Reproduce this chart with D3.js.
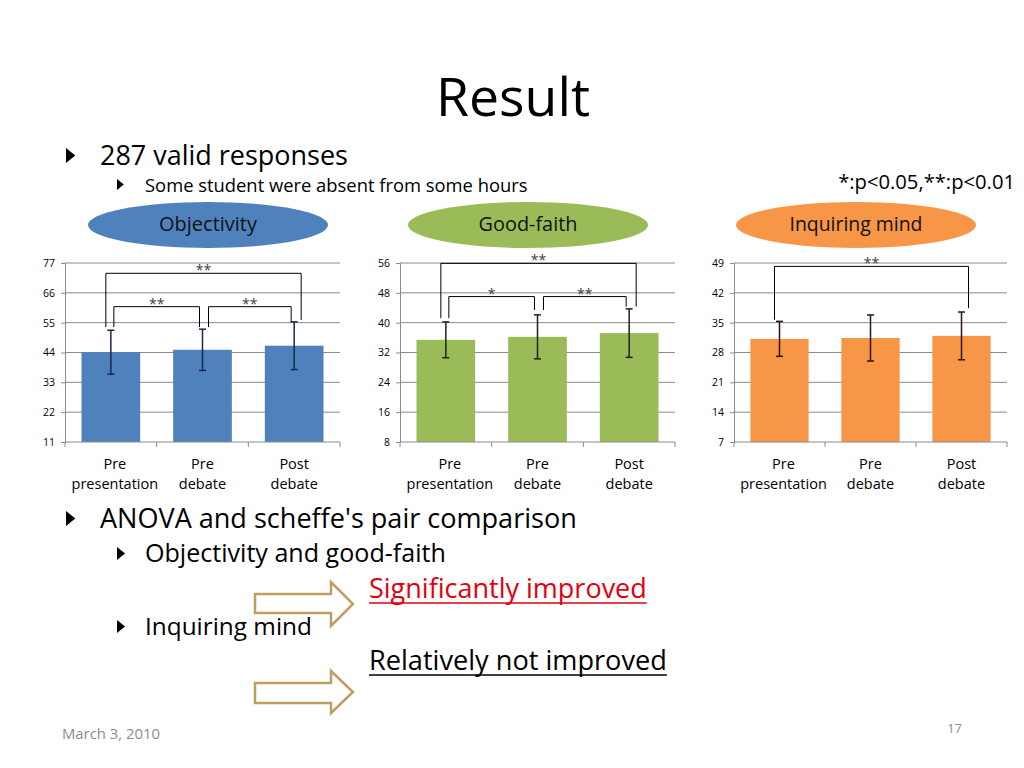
<!DOCTYPE html>
<html><head><meta charset="utf-8">
<script src="https://cdn.jsdelivr.net/npm/d3@7"></script>
<style>html,body{margin:0;padding:0;background:#fff;}svg{display:block;font-family:"Open Sans",Lato,sans-serif;}</style>
</head><body>
<svg id="c" width="1024" height="768"></svg>
<script>
// ---- data ----
const categories = [["Pre","presentation"],["Pre","debate"],["Post","debate"]];
const panelNames = ["Objectivity","Good-faith","Inquiring mind"];
const objectivityMeans = [44.1, 45.0, 46.5];
const objectivityErr   = [8.1, 7.6, 8.8];
const goodFaithMeans   = [35.4, 36.2, 37.2];
const goodFaithErr     = [4.8, 5.9, 6.5];
const inquiringMeans   = [31.2, 31.4, 31.9];
const inquiringErr     = [4.1, 5.4, 5.6];
const objectivityTicks = [11,22,33,44,55,66,77];
const goodFaithTicks   = [8,16,24,32,40,48,56];
const inquiringTicks   = [7,14,21,28,35,42,49];
// brackets: from cat, to cat, top level, left leg end, right leg end, label
const objectivityBrackets = [
  {a:0,b:2,top:73.2,la:53.4,lb:56.0,label:"**",kind:"outer"},
  {a:0,b:1,top:60.9,la:53.4,lb:53.4,label:"**",kind:"in1"},
  {a:1,b:2,top:60.9,la:53.4,lb:55.3,label:"**",kind:"in2"}];
const goodFaithBrackets = [
  {a:0,b:2,top:55.9,la:41.2,lb:44.3,label:"**",kind:"outer"},
  {a:0,b:1,top:47.0,la:41.2,lb:43.4,label:"*",kind:"in1"},
  {a:1,b:2,top:47.0,la:43.4,lb:44.3,label:"**",kind:"in2"}];
const inquiringBrackets = [
  {a:0,b:2,top:48.2,la:35.7,lb:38.4,label:"**",kind:"outer"}];

// ---- layout ----
const svg = d3.select("#c");
const panels = [
  {means:objectivityMeans, err:objectivityErr, ticks:objectivityTicks, br:objectivityBrackets, x0:65, x1:340, color:"#4F81BD", ecol:"#17294a", ell:208},
  {means:goodFaithMeans, err:goodFaithErr, ticks:goodFaithTicks, br:goodFaithBrackets, x0:400, x1:675, color:"#9BBB59", ecol:"#1e2414", ell:528},
  {means:inquiringMeans, err:inquiringErr, ticks:inquiringTicks, br:inquiringBrackets, x0:734, x1:1007, color:"#F79646", ecol:"#2a160c", ell:856}
];
const yTop = 263, yBot = 442;
const legOff = {outer:[-5,7], in1:[3,-3], in2:[6,-3]};

function fit(t, w){
  const s = +t.attr("font-size"), m = t.node().getComputedTextLength();
  t.attr("font-size", s*w/m);
  return t;
}
function txt(x,y,s,str,w,anchor,col){
  const t = svg.append("text").attr("x",x).attr("y",y).attr("font-size",s).attr("text-anchor",anchor||"start").attr("fill",col||"#000").text(str);
  if(w) fit(t,w);
  return t;
}

// title & bullets
txt(513,116,48,"Result",154,"middle");
function bullet(x,y,s){ svg.append("path").attr("d",`M${x},${y-s} L${x+s*0.62},${y-s/2} L${x},${y} Z`).attr("fill","#000"); }
bullet(66,163,15); txt(100,165,24,"287 valid responses",248);
bullet(117,190,11); txt(145,192,16,"Some student were absent from some hours",383);
txt(1015,189,16,"*:p<0.05,**:p<0.01",177,"end");

panels.forEach((p,i)=>{
  svg.append("ellipse").attr("cx",p.ell).attr("cy",225).attr("rx",120).attr("ry",23).attr("fill",p.color);
  txt(p.ell,231,16,panelNames[i],[98,99,133][i],"middle","#111");

  const x = d3.scaleBand().domain(d3.range(3)).range([p.x0,p.x1]).paddingInner(0.36).paddingOuter(0.18);
  const xs = d3.scaleLinear().domain([0,3]).range([p.x0,p.x1]);
  const y = d3.scaleLinear().domain([p.ticks[0], p.ticks[p.ticks.length-1]]).range([yBot,yTop]);
  const g = svg.append("g");
  g.selectAll(".grid").data(p.ticks.slice(1)).join("line")
    .attr("x1",p.x0).attr("x2",p.x1).attr("y1",d=>y(d)).attr("y2",d=>y(d))
    .attr("stroke","#8a8a8a").attr("stroke-width",1);
  const ya = g.append("g").attr("transform",`translate(${p.x0},0)`)
    .call(d3.axisLeft(y).tickValues(p.ticks).tickSize(4).tickPadding(6));
  ya.select(".domain").attr("stroke","#8a8a8a");
  ya.selectAll(".tick line").attr("stroke","#8a8a8a");
  ya.selectAll(".tick text").attr("font-family","'Open Sans',sans-serif").attr("font-size",10.5).attr("fill","#000");
  g.selectAll(".bar").data(p.means).join("rect")
    .attr("x",(d,j)=>x(j)).attr("width",x.bandwidth())
    .attr("y",d=>y(d)).attr("height",d=>yBot-y(d)).attr("fill",p.color);
  g.append("line").attr("x1",p.x0).attr("x2",p.x1).attr("y1",yBot).attr("y2",yBot).attr("stroke","#8a8a8a");
  g.selectAll(".xt").data(d3.range(4)).join("line")
    .attr("x1",d=>xs(d)).attr("x2",d=>xs(d)).attr("y1",yBot).attr("y2",yBot+5).attr("stroke","#8a8a8a");
  categories.forEach((c,j)=>{
    const cx = x(j)+x.bandwidth()/2 + (j===0?4:0);
    g.append("text").attr("x",cx).attr("y",469).attr("text-anchor","middle").attr("font-size",14.5).text(c[0]);
    g.append("text").attr("x",cx).attr("y",489).attr("text-anchor","middle").attr("font-size",14.5).text(c[1]);
  });
  p.means.forEach((m,j)=>{
    const cx = x(j)+x.bandwidth()/2, e = p.err[j];
    g.append("line").attr("x1",cx).attr("x2",cx).attr("y1",y(m+e)).attr("y2",y(m-e)).attr("stroke",p.ecol).attr("stroke-width",1.5);
    [m+e,m-e].forEach(v=>g.append("line").attr("x1",cx-3.5).attr("x2",cx+3.5).attr("y1",y(v)).attr("y2",y(v)).attr("stroke",p.ecol).attr("stroke-width",1.5));
  });
  p.br.forEach(b=>{
    const off = legOff[b.kind];
    const xa = x(b.a)+x.bandwidth()/2+off[0], xb = x(b.b)+x.bandwidth()/2+off[1];
    g.append("path").attr("d",`M${xa},${y(b.la)} V${y(b.top)} H${xb} V${y(b.lb)}`)
      .attr("fill","none").attr("stroke","#000").attr("stroke-width",1);
    g.append("text").attr("x",(xa+xb)/2).attr("y",y(b.top)+2).attr("text-anchor","middle").attr("font-size",14).attr("fill","#404040").text(b.label);
  });
});

// bottom text
bullet(66,526,15); txt(100,528,24,"ANOVA and scheffe's pair comparison",477);
bullet(117,560,13); txt(145,562,20,"Objectivity and good-faith",301);
bullet(117,633,13); txt(145,635,20,"Inquiring mind",167);
function ul(x,y,s,str,w,col){
  const t = txt(x,y,s,str,w,"start",col);
  const tw = t.node().getComputedTextLength();
  svg.append("line").attr("x1",x).attr("x2",x+tw).attr("y1",y+5).attr("y2",y+5).attr("stroke",col).attr("stroke-width",1.6);
}
ul(369,598,24,"Significantly improved",278,"#E3000F");
ul(369,670,24,"Relatively not improved",298,"#000");
function arrow(y0,y1,hy0,hy1){
  const xl=255, xh=331, xt=353, ym=(hy0+hy1)/2;
  svg.append("path").attr("d",`M${xl},${y0} H${xh} V${hy0} L${xt},${ym} L${xh},${hy1} V${y1} H${xl} Z`)
    .attr("fill","#fff").attr("stroke","#C09E62").attr("stroke-width",2.5).attr("stroke-linejoin","miter");
}
arrow(594,613,582,626);
arrow(683,703,671,713);

// footer
txt(62,739,13,"March 3, 2010",98,"start","#8c8c8c");
txt(962,733,13,"17",null,"end","#8c8c8c");
</script>
</body></html>
